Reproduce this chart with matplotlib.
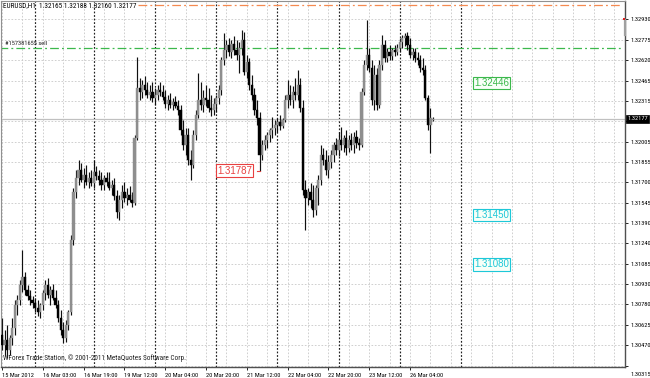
import matplotlib
matplotlib.use("Agg")
import matplotlib.pyplot as plt
import matplotlib.font_manager as fm
import matplotlib.transforms as mtransforms
import numpy as np

# ---------------- data ----------------
opens = [1.30547, 1.30472, 1.30509, 1.30434, 1.30523, 1.30600, 1.30773, 1.30811, 1.30924, 1.30984,
         1.30886, 1.30841, 1.30811, 1.30788, 1.30751, 1.30721, 1.30773, 1.30864, 1.30924, 1.30849,
         1.30886, 1.30826, 1.30773, 1.30675, 1.30585, 1.30523, 1.30623, 1.30721, 1.31263, 1.31625,
         1.31731, 1.31791, 1.31716, 1.31754, 1.31701, 1.31731, 1.31693, 1.31776, 1.31746, 1.31716,
         1.31678, 1.31731, 1.31701, 1.31656, 1.31678, 1.31595, 1.31475, 1.31565, 1.31625, 1.31580,
         1.31603, 1.31565, 1.31542, 1.32033, 1.32410, 1.32379, 1.32432, 1.32394, 1.32357, 1.32379,
         1.32334, 1.32357, 1.32394, 1.32379, 1.32342, 1.32289, 1.32319, 1.32281, 1.32304, 1.32274,
         1.32244, 1.32093, 1.31980, 1.32055, 1.31867, 1.31829, 1.32055, 1.32206, 1.32319, 1.32281,
         1.32334, 1.32319, 1.32259, 1.32244, 1.32289, 1.32334, 1.32394, 1.32621, 1.32696, 1.32734,
         1.32681, 1.32741, 1.32696, 1.32658, 1.32711, 1.32771, 1.32530, 1.32606, 1.32432, 1.32357,
         1.32244, 1.32183, 1.31904, 1.31980, 1.32017, 1.32055, 1.32093, 1.32108, 1.32131, 1.32153,
         1.32123, 1.32168, 1.32319, 1.32357, 1.32319, 1.32379, 1.32357, 1.32432, 1.32259, 1.31640,
         1.31580, 1.31625, 1.31565, 1.31490, 1.31656, 1.31716, 1.31904, 1.31867, 1.31791, 1.31852,
         1.31904, 1.31980, 1.31942, 1.32017, 1.31980, 1.32033, 1.31957, 1.32017, 1.31980, 1.32040,
         1.31995, 1.31980, 1.32379, 1.32583, 1.32658, 1.32560, 1.32319, 1.32508, 1.32281, 1.32583,
         1.32734, 1.32636, 1.32681, 1.32651, 1.32696, 1.32681, 1.32711, 1.32756, 1.32786, 1.32802,
         1.32734, 1.32658, 1.32681, 1.32636, 1.32621, 1.32560, 1.32545, 1.32334, 1.32131, 1.32165]

highs = [1.30675, 1.30585, 1.30623, 1.30547, 1.30675, 1.30811, 1.30849, 1.30962, 1.31188, 1.31022,
         1.30924, 1.30886, 1.30841, 1.30826, 1.30811, 1.30788, 1.30886, 1.30962, 1.30977, 1.30917,
         1.30932, 1.30886, 1.30811, 1.30736, 1.30645, 1.30660, 1.30736, 1.31301, 1.31656, 1.31791,
         1.31867, 1.31844, 1.31806, 1.31829, 1.31776, 1.31791, 1.31867, 1.31821, 1.31791, 1.31776,
         1.31754, 1.31776, 1.31776, 1.31716, 1.31731, 1.31640, 1.31603, 1.31678, 1.31701, 1.31656,
         1.31671, 1.31625, 1.32055, 1.32643, 1.32485, 1.32470, 1.32500, 1.32455, 1.32432, 1.32455,
         1.32410, 1.32432, 1.32455, 1.32432, 1.32394, 1.32357, 1.32372, 1.32334, 1.32349, 1.32319,
         1.32281, 1.32168, 1.32108, 1.32108, 1.31942, 1.32093, 1.32244, 1.32523, 1.32455, 1.32394,
         1.32432, 1.32410, 1.32357, 1.32334, 1.32357, 1.32432, 1.32643, 1.32824, 1.32771, 1.32786,
         1.32771, 1.32802, 1.32771, 1.32756, 1.32847, 1.32832, 1.32658, 1.32636, 1.32508, 1.32410,
         1.32319, 1.32229, 1.32017, 1.32055, 1.32078, 1.32108, 1.32191, 1.32168, 1.32183, 1.32206,
         1.32183, 1.32357, 1.32470, 1.32432, 1.32425, 1.32485, 1.32545, 1.32485, 1.32319, 1.31716,
         1.31656, 1.31693, 1.31678, 1.31678, 1.31754, 1.31980, 1.31957, 1.31942, 1.31904, 1.31942,
         1.32002, 1.32033, 1.32078, 1.32115, 1.32055, 1.32093, 1.32055, 1.32070, 1.32078, 1.32093,
         1.32033, 1.32410, 1.32621, 1.32922, 1.32711, 1.32621, 1.32583, 1.32560, 1.32621, 1.32809,
         1.32771, 1.32711, 1.32734, 1.32711, 1.32734, 1.32741, 1.32786, 1.32809, 1.32824, 1.32832,
         1.32786, 1.32711, 1.32711, 1.32681, 1.32658, 1.32636, 1.32583, 1.32357, 1.32259, 1.32188]

lows = [1.30434, 1.30389, 1.30374, 1.30396, 1.30472, 1.30547, 1.30698, 1.30773, 1.30871, 1.30849,
        1.30811, 1.30773, 1.30751, 1.30721, 1.30690, 1.30675, 1.30736, 1.30811, 1.30826, 1.30773,
        1.30811, 1.30751, 1.30645, 1.30547, 1.30487, 1.30494, 1.30585, 1.30698, 1.31226, 1.31580,
        1.31678, 1.31701, 1.31656, 1.31678, 1.31656, 1.31671, 1.31656, 1.31716, 1.31678, 1.31640,
        1.31640, 1.31671, 1.31640, 1.31603, 1.31565, 1.31429, 1.31414, 1.31505, 1.31550, 1.31527,
        1.31550, 1.31512, 1.31527, 1.32017, 1.32319, 1.32334, 1.32357, 1.32334, 1.32319, 1.32304,
        1.32281, 1.32319, 1.32349, 1.32319, 1.32259, 1.32244, 1.32259, 1.32244, 1.32259, 1.32206,
        1.32055, 1.31942, 1.31904, 1.31829, 1.31716, 1.31806, 1.32017, 1.32183, 1.32244, 1.32229,
        1.32274, 1.32229, 1.32198, 1.32206, 1.32229, 1.32289, 1.32357, 1.32583, 1.32636, 1.32651,
        1.32636, 1.32658, 1.32621, 1.32523, 1.32658, 1.32508, 1.32485, 1.32394, 1.32319, 1.32206,
        1.32131, 1.31787, 1.31867, 1.31942, 1.31957, 1.32002, 1.32033, 1.32055, 1.32078, 1.32093,
        1.32108, 1.32153, 1.32259, 1.32281, 1.32259, 1.32319, 1.32319, 1.32229, 1.31603, 1.31339,
        1.31527, 1.31505, 1.31437, 1.31452, 1.31527, 1.31678, 1.31829, 1.31754, 1.31731, 1.31806,
        1.31852, 1.31904, 1.31897, 1.31942, 1.31927, 1.31904, 1.31927, 1.31942, 1.31919, 1.31957,
        1.31942, 1.31965, 1.32357, 1.32545, 1.32530, 1.32281, 1.32244, 1.32244, 1.32259, 1.32545,
        1.32606, 1.32606, 1.32621, 1.32621, 1.32651, 1.32658, 1.32681, 1.32711, 1.32726, 1.32696,
        1.32636, 1.32621, 1.32606, 1.32583, 1.32530, 1.32508, 1.32319, 1.32093, 1.31919, 1.32160]

closes = [1.30472, 1.30509, 1.30434, 1.30523, 1.30600, 1.30773, 1.30811, 1.30924, 1.30984, 1.30886,
          1.30841, 1.30811, 1.30788, 1.30751, 1.30721, 1.30773, 1.30864, 1.30924, 1.30849, 1.30886,
          1.30826, 1.30773, 1.30675, 1.30585, 1.30523, 1.30623, 1.30721, 1.31263, 1.31625, 1.31731,
          1.31791, 1.31716, 1.31754, 1.31701, 1.31731, 1.31693, 1.31776, 1.31746, 1.31716, 1.31678,
          1.31731, 1.31701, 1.31656, 1.31678, 1.31595, 1.31475, 1.31565, 1.31625, 1.31580, 1.31603,
          1.31565, 1.31542, 1.32033, 1.32410, 1.32379, 1.32432, 1.32394, 1.32357, 1.32379, 1.32334,
          1.32357, 1.32394, 1.32379, 1.32342, 1.32289, 1.32319, 1.32281, 1.32304, 1.32274, 1.32244,
          1.32093, 1.31980, 1.32055, 1.31867, 1.31829, 1.32055, 1.32206, 1.32319, 1.32281, 1.32334,
          1.32319, 1.32259, 1.32244, 1.32289, 1.32334, 1.32394, 1.32621, 1.32696, 1.32734, 1.32681,
          1.32741, 1.32696, 1.32658, 1.32711, 1.32771, 1.32530, 1.32606, 1.32432, 1.32357, 1.32244,
          1.32183, 1.31904, 1.31980, 1.32017, 1.32055, 1.32093, 1.32108, 1.32131, 1.32153, 1.32123,
          1.32168, 1.32319, 1.32357, 1.32319, 1.32379, 1.32357, 1.32432, 1.32259, 1.31640, 1.31580,
          1.31625, 1.31565, 1.31490, 1.31656, 1.31716, 1.31904, 1.31867, 1.31791, 1.31852, 1.31904,
          1.31980, 1.31942, 1.32017, 1.31980, 1.32033, 1.31957, 1.32017, 1.31980, 1.32040, 1.31995,
          1.31980, 1.32379, 1.32583, 1.32658, 1.32560, 1.32319, 1.32508, 1.32281, 1.32583, 1.32734,
          1.32636, 1.32681, 1.32651, 1.32696, 1.32681, 1.32711, 1.32756, 1.32786, 1.32802, 1.32734,
          1.32658, 1.32681, 1.32636, 1.32621, 1.32560, 1.32545, 1.32334, 1.32131, 1.32183, 1.32177]

time_labels = ["15 Mar 2012", "16 Mar 03:00", "16 Mar 19:00", "19 Mar 12:00", "20 Mar 04:00",
               "20 Mar 20:00", "21 Mar 12:00", "22 Mar 04:00", "22 Mar 20:00", "23 Mar 12:00",
               "26 Mar 04:00"]
time_label_bars = [0, 16, 32, 48, 64, 80, 96, 112, 128, 144, 160]
day_separator_bars = [13, 36, 60, 84, 108, 132, 156, 180]

price_ticks = [1.32930, 1.32775, 1.32620, 1.32465, 1.32315, 1.32160, 1.32005, 1.31855, 1.31700,
               1.31545, 1.31390, 1.31240, 1.31085, 1.30930, 1.30780, 1.30625, 1.30470, 1.30315]
hidden_tick = 1.32160  # covered by the current-price label in the reference

symbol_title = "EURUSD,H1  1.32165 1.32188 1.32160 1.32177"
copyright_text = "WForex Trade Station, \u00a9 2001-2011 MetaQuotes Software Corp."
order_label = "#157381655 sell"
order_price = 1.32713
tp_price = 1.33038
bid_price = 1.32177
low_mark_price = 1.31787
low_mark_bar = 101
level_prices = [1.32446, 1.31450, 1.31080]
level_colors = ["#3cb84c", "#1ec8d8", "#1ec8d8"]

# ---------------- fonts ----------------
names = {f.name for f in fm.fontManager.ttflist}
FONT = "DejaVu Sans"
for cand in ["Liberation Sans Narrow", "DejaVu Sans Condensed", "Roboto Condensed", "Open Sans Condensed"]:
    if cand in names:
        FONT = cand
        break
BOXFONT = "Liberation Sans" if "Liberation Sans" in names else "DejaVu Sans"
plt.rcParams["font.family"] = [FONT, "DejaVu Sans"]
SMALL = 4.6 if FONT != "DejaVu Sans" else 3.8
HEAD = 5.2 if FONT != "DejaVu Sans" else 4.3

# ---------------- figure ----------------
W, H = 650, 378
fig = plt.figure(figsize=(W / 100, H / 100), dpi=100)
fig.patch.set_facecolor("white")
ax = fig.add_axes([1 / W, 1 - 367 / H, 624 / W, 366 / H])
ax.set_facecolor("white")

step = 2.55  # px per bar
ax.set_xlim((1 - 2) / step, (625 - 2) / step)
ax.set_ylim(1.303060, 1.330655)

# grid
grid_c = "#c8c8c8"
for p in price_ticks:
    ax.axhline(p, color=grid_c, lw=0.6, ls=(0, (2, 2)), zorder=0)
for b in range(0, 248, 8):
    ax.axvline(b, color=grid_c, lw=0.6, ls=(0, (2, 2)), zorder=0)
for b in day_separator_bars:
    ax.axvline(b, color="#202020", lw=0.85, ls=(0, (1.5, 1.5)), zorder=0.5)

# bid line
ax.axhline(bid_price, color="#c0c0c0", lw=0.9, zorder=0.6)

# candles
idx = np.arange(len(closes))
o = np.array(opens); c = np.array(closes); h = np.array(highs); l = np.array(lows)
up = c >= o
ax.vlines(idx, l, h, color="#101010", lw=0.85, zorder=2)
body_lo = np.minimum(o, c)
body_h = np.maximum(np.abs(c - o), 0.00004)
ax.bar(idx[up], body_h[up], bottom=body_lo[up], width=0.9, color="#8e8e8e",
       edgecolor="#8e8e8e", linewidth=0.3, zorder=3)
ax.bar(idx[~up], body_h[~up], bottom=body_lo[~up], width=0.9, color="#000000",
       edgecolor="#000000", linewidth=0.3, zorder=3)

# order / TP lines
ax.plot([-1, 243], [order_price, order_price], color="#3cb84c", lw=0.9,
        ls=(0, (7, 2.5, 1.5, 2.5)), zorder=1)
ax.plot([53.5, 243], [tp_price, tp_price], color="#f58a50", lw=0.9,
        ls=(0, (7, 2.5, 1.5, 2.5)), zorder=1)
ax.text(1.0, order_price + 0.00012, order_label, fontsize=SMALL, color="#202020",
        ha="left", va="bottom", zorder=5)

# low mark label
ax.plot([99.9, low_mark_bar], [low_mark_price, low_mark_price], color="#e84040", lw=0.8, zorder=4)
ax.text(91.3, low_mark_price, f"{low_mark_price:.5f}", fontsize=7.0, color="#e84040",
        family=BOXFONT, ha="center", va="center", zorder=6,
        bbox=dict(boxstyle="square,pad=0.12", fc="white", ec="#e84040", lw=0.8))

# level labels
for p, col in zip(level_prices, level_colors):
    ax.text(192, p, f"{p:.5f}", fontsize=7.0, color=col, family=BOXFONT,
            ha="center", va="center", zorder=6,
            bbox=dict(boxstyle="square,pad=0.12", fc="#f8fff8", ec=col, lw=0.8))

# texts
ax.text(0.004, 1 - 5 / 366, symbol_title, transform=ax.transAxes, fontsize=HEAD,
        color="#000000", ha="left", va="center", zorder=6)
ax.text(0.004, 1 - 357 / 366, copyright_text, transform=ax.transAxes, fontsize=HEAD,
        color="#202020", ha="left", va="center", zorder=6)

# axes styling
for side in ["left", "top"]:
    ax.spines[side].set_color("#909090")
    ax.spines[side].set_linewidth(0.8)
for side in ["right", "bottom"]:
    ax.spines[side].set_color("#505050")
    ax.spines[side].set_linewidth(1.0)

ax.yaxis.tick_right()
ax.set_yticks(price_ticks)
ax.set_yticklabels(["" if p == hidden_tick else f"{p:.5f}" for p in price_ticks])
ax.tick_params(axis="y", direction="out", length=2.5, width=0.6, pad=1.5,
               labelsize=SMALL, colors="#000000")
# lowest price label sits just under the axis corner, as in the terminal
last_lab = ax.get_yticklabels()[-1]
last_lab.set_transform(last_lab.get_transform() +
                       mtransforms.ScaledTranslation(0, -6 / 72, fig.dpi_scale_trans))
ax.set_xticks(time_label_bars)
ax.set_xticklabels(time_labels, ha="left")
ax.tick_params(axis="x", direction="out", length=2.5, width=0.6, pad=1.5,
               labelsize=SMALL, colors="#000000")

# current price marker on axis
ax.text(1.004, bid_price, f"{bid_price:.5f}", transform=ax.get_yaxis_transform(),
        fontsize=SMALL, color="white", ha="left", va="center", zorder=10, clip_on=False,
        bbox=dict(boxstyle="square,pad=0.2", fc="black", ec="black", lw=0.5))
# small markers at axis
ax.plot([1.0, 1.0], [1.32922, 1.32810], color="#a0a0a0", lw=1.6,
        transform=ax.get_yaxis_transform(), clip_on=False, zorder=9)
ax.plot([0.998], [price_ticks[0]], marker="s", ms=1.8, mew=0, color="#e02020",
        transform=ax.get_yaxis_transform(), clip_on=False, zorder=10)

fig.savefig("out.png", dpi=100, facecolor="white")
